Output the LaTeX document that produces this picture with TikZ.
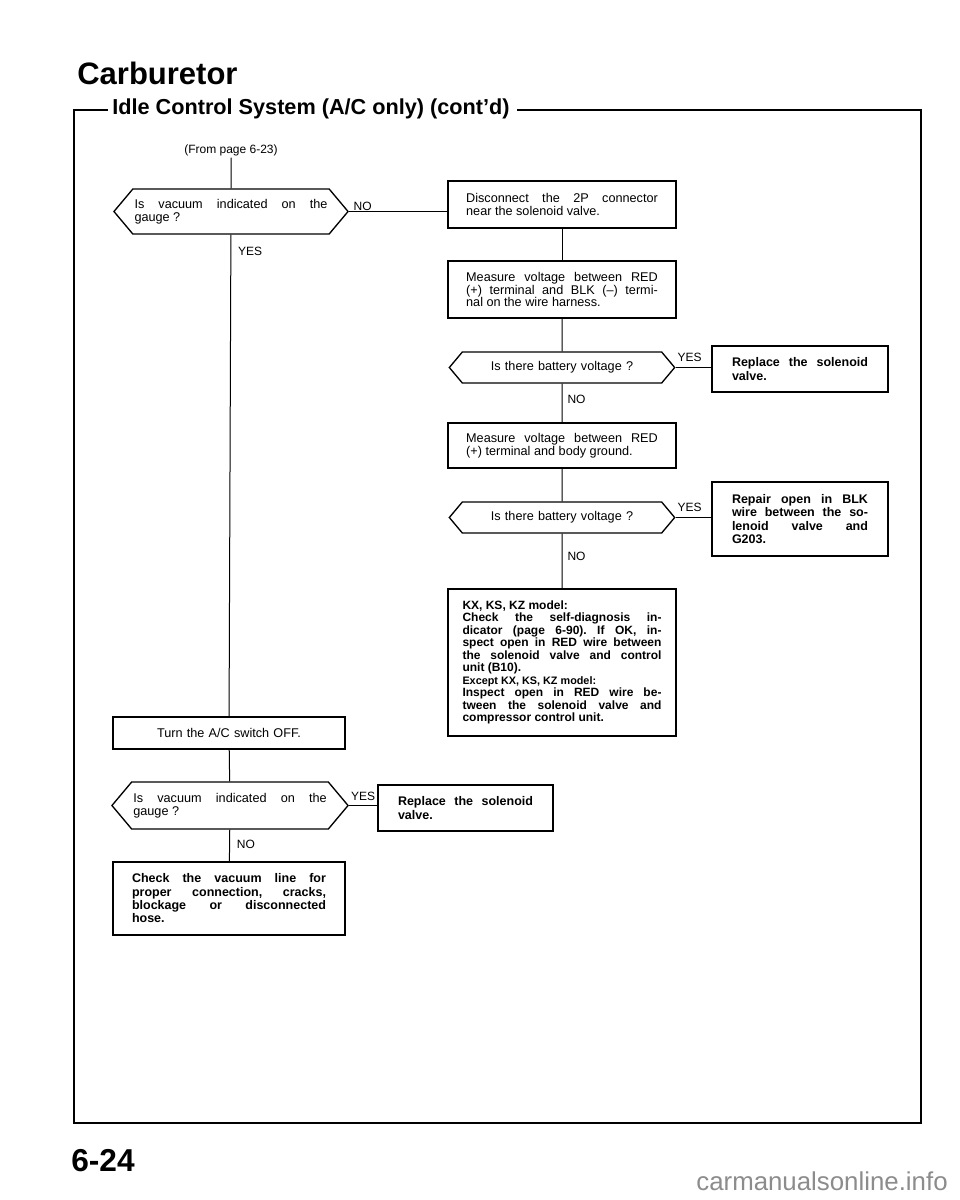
\documentclass[tikz,border=0pt]{standalone}
\usepackage{fontspec}
\setmainfont{Liberation Sans}
\usepackage{tikz}
\usetikzlibrary{shapes.symbols}
\frenchspacing

\newcommand\chkfont{\fontsize{7.6pt}{7.7pt}\selectfont}
\newcommand\fixfont{\bfseries\fontsize{7.5pt}{8pt}\selectfont}

\tikzset{
  chkbox/.style={draw,line width=0.8pt,inner sep=0pt,align=justify,font=\chkfont},
  fixbox/.style={chkbox,font=\fixfont},
  askbox/.style={draw,line width=0.8pt,signal,signal to=west and east,
    signal pointer angle=100,inner xsep=1pt,inner ysep=0pt,font=\chkfont},
  reply/.style={inner sep=1pt,font=\fontsize{7.2pt}{8pt}\selectfont},
  wire/.style={line width=0.6pt}
}

\begin{document}
\begin{tikzpicture}[x=0.6pt,y=-0.6pt]
\useasboundingbox (0,0) rectangle (960,1200);

\node[anchor=base west,inner sep=0pt,font=\bfseries\fontsize{18.6pt}{20pt}\selectfont] (title) at (77,84) {Carburetor};
\node[anchor=base west,inner sep=0pt,font=\bfseries\fontsize{13pt}{15pt}\selectfont] (sub) at (112,114) {Idle Control System (A/C only) (cont'd)};
\draw[line width=1.1pt] (108,110) -- (74,110) -- (74,1123) -- (921,1123) -- (921,110) -- (517,110);

\node[inner sep=1pt,font=\fontsize{7.2pt}{8pt}\selectfont] (from) at (231,150) {(From page 6-23)};

% left column
\node[askbox,minimum height=27pt,text width=115.8pt,align=justify] (vac1) at (231,211.5)
  {Is vacuum indicated on the\linebreak gauge ?};
\node[chkbox,minimum width=139.2pt,minimum height=19.2pt,text width=125pt,align=center] (acoff) at (229,733)
  {Turn the A/C switch OFF.};
\node[askbox,minimum height=28.2pt,text width=116pt,align=justify] (vac2) at (230,805.5)
  {Is vacuum indicated on the\linebreak gauge ?};
\node[fixbox,minimum width=105pt,minimum height=27.6pt,text width=81pt] (repl2) at (465.5,808)
  {Replace the solenoid\linebreak valve.};
\node[fixbox,minimum width=139.2pt,minimum height=43.8pt,text width=116.4pt] (hose) at (229,898.5)
  {Check the vacuum line for\linebreak proper connection, cracks,\linebreak blockage or disconnected\linebreak hose.};

% right column
\node[chkbox,minimum width=136.8pt,minimum height=28.2pt,text width=115pt] (disc) at (562,204.5)
  {Disconnect the 2P connector\linebreak near the solenoid valve.};
\node[chkbox,minimum width=136.8pt,minimum height=34.2pt,text width=115pt] (meas1) at (562,289.5)
  {Measure voltage between RED\linebreak (+) terminal and BLK (--) termi-\linebreak nal on the wire harness.};
\node[askbox,minimum height=18.6pt,text width=117.6pt,align=center] (batt1) at (562,367.5)
  {Is there battery voltage ?};
\node[fixbox,minimum width=105.6pt,minimum height=27.6pt,text width=81.6pt] (repl1) at (800,369)
  {Replace the solenoid\linebreak valve.};
\node[chkbox,minimum width=136.8pt,minimum height=27pt,text width=115pt] (meas2) at (562,445.5)
  {Measure voltage between RED\linebreak (+) terminal and body ground.};
\node[askbox,minimum height=18.6pt,text width=117.6pt,align=center] (batt2) at (562,517.5)
  {Is there battery voltage ?};
\node[fixbox,minimum width=105.6pt,minimum height=44.4pt,text width=81.6pt] (repblk) at (800,519)
  {Repair open in BLK\linebreak wire between the so-\linebreak lenoid valve and\linebreak G203.};
\node[fixbox,minimum width=136.8pt,minimum height=88.2pt,text width=119.4pt,font=\bfseries\fontsize{7.2pt}{7.5pt}\selectfont] (kxbox) at (562,662.5)
  {KX, KS, KZ model:\\
   Check the self-diagnosis in-\linebreak dicator (page 6-90). If OK, in-\linebreak spect open in RED wire between\linebreak the solenoid valve and control\linebreak unit (B10).\\
   {\fontsize{6.5pt}{7.5pt}\selectfont Except KX, KS, KZ model:}\\
   Inspect open in RED wire be-\linebreak tween the solenoid valve and\linebreak compressor control unit.};

% connectors
\draw[wire] (from) -- (vac1);
\draw[wire] (vac1.east) -- node[reply,pos=0,anchor=south west,xshift=1.5pt,yshift=-1pt] {NO} (disc.west |- vac1.east);
\draw[wire] (vac1) -- node[reply,pos=0,anchor=north west,xshift=3pt,yshift=-6pt] {YES} (acoff);
\draw[wire] (disc) -- (meas1);
\draw[wire] (meas1) -- (batt1);
\draw[wire] (batt1.east) -- node[reply,pos=0,anchor=south west,yshift=2pt] {YES} (repl1.west |- batt1.east);
\draw[wire] (batt1) -- node[reply,pos=0,anchor=north west,xshift=2pt,yshift=-5.5pt] {NO} (meas2);
\draw[wire] (meas2) -- (batt2);
\draw[wire] (batt2.east) -- node[reply,pos=0,anchor=south west,yshift=2pt] {YES} (repblk.west |- batt2.east);
\draw[wire] (batt2) -- node[reply,pos=0,anchor=north west,xshift=2pt,yshift=-10pt] {NO} (kxbox);
\draw[wire] (acoff) -- (vac2);
\draw[wire] (vac2.east) -- node[reply,pos=0,anchor=south west,yshift=1.5pt] {YES} (repl2.west |- vac2.east);
\draw[wire] (vac2) -- node[reply,pos=0,anchor=north west,xshift=3pt,yshift=-5pt] {NO} (hose);

\node[anchor=base west,inner sep=0pt,font=\bfseries\fontsize{19pt}{20pt}\selectfont] (page) at (71,1171) {6-24};
\node[anchor=base east,inner sep=0pt,text=black!45,font=\fontsize{15.5pt}{17pt}\selectfont] (mark) at (948,1190) {carmanualsonline.info};
\end{tikzpicture}
\end{document}
